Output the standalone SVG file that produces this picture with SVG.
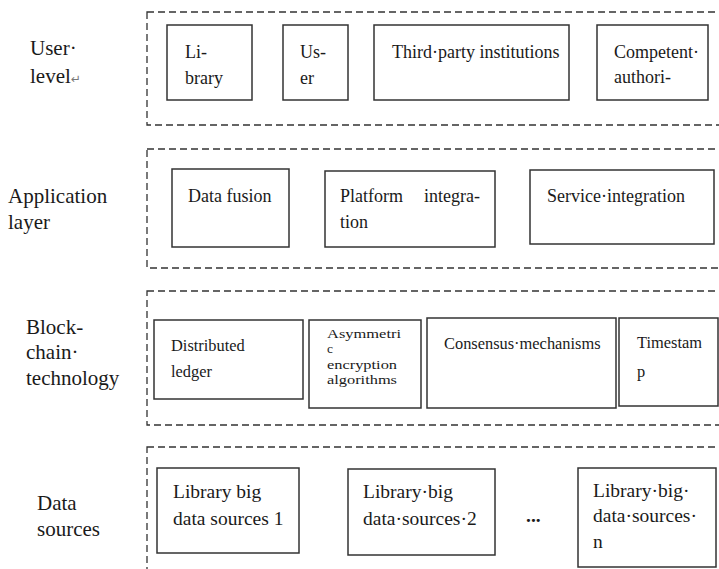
<svg xmlns="http://www.w3.org/2000/svg" width="719" height="569" viewBox="0 0 719 569">
<style>
  .layer { fill: none; stroke: #333; stroke-width: 1.3; stroke-dasharray: 7 4; }
  .box { fill: #fff; stroke: #333; stroke-width: 1.5; }
  text { fill: #1a1a1a; font-family: "Liberation Serif", "Times New Roman", serif; }
  .lbl { font-size: 21px; }
  .t18 { font-size: 18px; }
  .t16 { font-size: 16.4px; }
  .t14 { font-size: 13.5px; }
  .t19 { font-size: 19.5px; }
  .mark { font-family: "DejaVu Sans", sans-serif; font-size: 12px; fill: #777; }
</style>
<rect width="719" height="569" fill="#fff"/>

<g id="layers">
  <rect id="layer-user" class="layer" x="147" y="12" width="600" height="113"/>
  <rect id="layer-app" class="layer" x="147" y="149" width="600" height="119"/>
  <rect id="layer-block" class="layer" x="147" y="291" width="600" height="134"/>
  <rect id="layer-data" class="layer" x="147" y="447" width="600" height="140"/>
</g>

<g id="connectors"></g>

<g id="labels">
  <g id="label-user"><text class="lbl" x="30" y="55">User·</text><text class="lbl" x="30" y="83">level<tspan class="mark">↵</tspan></text></g>
  <g id="label-app"><text class="lbl" x="8" y="203">Application</text><text class="lbl" x="8" y="229">layer</text></g>
  <g id="label-block"><text class="lbl" x="26" y="334">Block-</text><text class="lbl" x="26" y="359">chain·</text><text class="lbl" x="26" y="385">technology</text></g>
  <g id="label-data"><text class="lbl" x="37" y="510">Data</text><text class="lbl" x="37" y="536">sources</text></g>
</g>

<g id="node-library">
  <rect class="box" x="167" y="25" width="85" height="75"/>
  <text class="t18" x="185" y="58">Li-</text>
  <text class="t18" x="185" y="84">brary</text>
</g>
<g id="node-user">
  <rect class="box" x="283" y="25" width="65" height="75"/>
  <text class="t18" x="300" y="58">Us-</text>
  <text class="t18" x="300" y="84">er</text>
</g>
<g id="node-third">
  <rect class="box" x="374" y="25" width="195" height="75"/>
  <text class="t18" x="392" y="58">Third·party institutions</text>
</g>
<g id="node-competent">
  <rect class="box" x="597" y="25" width="111" height="75"/>
  <text class="t18" x="614" y="58">Competent·</text>
  <text class="t18" x="614" y="83">authori-</text>
</g>

<g id="node-datafusion">
  <rect class="box" x="172" y="169" width="117" height="78"/>
  <text class="t18" x="188" y="202">Data fusion</text>
</g>
<g id="node-platform">
  <rect class="box" x="325" y="171" width="170" height="76"/>
  <text class="t18" x="340" y="202">Platform</text>
  <text class="t18" x="480" y="202" text-anchor="end">integra-</text>
  <text class="t18" x="340" y="228">tion</text>
</g>
<g id="node-service">
  <rect class="box" x="530" y="170" width="184" height="74"/>
  <text class="t18" x="547" y="202">Service·integration</text>
</g>

<g id="node-ledger">
  <rect class="box" x="154" y="320" width="149" height="79"/>
  <text class="t16" x="171" y="351">Distributed</text>
  <text class="t16" x="171" y="377">ledger</text>
</g>
<g id="node-asym">
  <rect class="box" x="309" y="320" width="112" height="88"/>
  <text class="t14" x="327" y="338" textLength="74" lengthAdjust="spacingAndGlyphs">Asymmetri</text>
  <text class="t14" x="327" y="353">c</text>
  <text class="t14" x="327" y="369" textLength="70" lengthAdjust="spacingAndGlyphs">encryption</text>
  <text class="t14" x="327" y="384" textLength="70" lengthAdjust="spacingAndGlyphs">algorithms</text>
</g>
<g id="node-consensus">
  <rect class="box" x="427" y="318" width="189" height="90"/>
  <text class="t16" x="444" y="349">Consensus·mechanisms</text>
</g>
<g id="node-timestamp">
  <rect class="box" x="619" y="318" width="99" height="88"/>
  <text class="t16" x="637" y="348">Timestam</text>
  <text class="t16" x="637" y="377">p</text>
</g>

<g id="node-source1">
  <rect class="box" x="157" y="468" width="142" height="85"/>
  <text class="t19" x="173" y="498">Library big</text>
  <text class="t19" x="173" y="525">data sources 1</text>
</g>
<g id="node-source2">
  <rect class="box" x="348" y="469" width="147" height="86"/>
  <text class="t19" x="363" y="498">Library·big</text>
  <text class="t19" x="363" y="525">data·sources·2</text>
</g>
<g id="ellipsis">
  <text class="t19" x="526" y="522" font-weight="bold">...</text>
</g>
<g id="node-sourcen">
  <rect class="box" x="578" y="468" width="138" height="99"/>
  <text class="t19" x="593" y="497">Library·big·</text>
  <text class="t19" x="593" y="522">data·sources·</text>
  <text class="t19" x="593" y="548">n</text>
</g>
</svg>
